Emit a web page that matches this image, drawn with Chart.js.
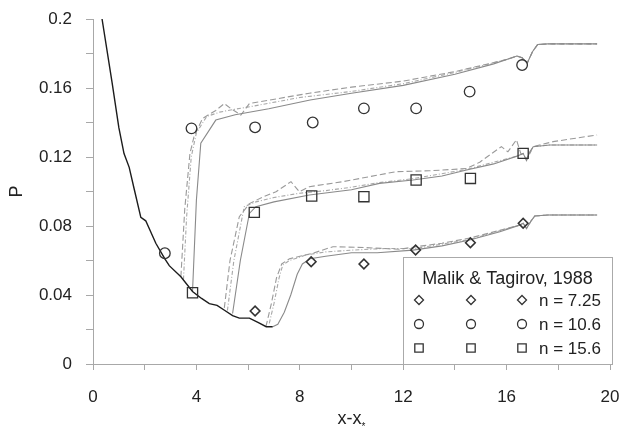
<!DOCTYPE html>
<html>
<head>
<meta charset="utf-8">
<script src="https://cdn.jsdelivr.net/npm/chart.js@4.4.0/dist/chart.umd.min.js"></script>
<style>
  body { margin: 0; background: #fff; }
  #wrap { width: 621px; height: 427px; position: relative; }
</style>
</head>
<body>
<div id="wrap"><canvas id="chart"></canvas></div>
<script>
// axis ticks (labelled ones)
const xTickLabels = [0, 4, 8, 12, 16, 20];
const yTickLabels = [0, 0.04, 0.08, 0.12, 0.16, 0.2];

// measured points, Malik & Tagirov 1988
const diamonds725 = [[6.27, 0.0307], [8.44, 0.0593], [10.48, 0.058], [12.48, 0.0661], [14.6, 0.0703], [16.64, 0.0816]];
const circles106 = [[2.78, 0.0642], [3.81, 0.1366], [6.27, 0.1372], [8.5, 0.140], [10.48, 0.1482], [12.5, 0.1482], [14.57, 0.1579], [16.6, 0.1733]];
const squares156 = [[3.85, 0.0413], [6.24, 0.0879], [8.46, 0.0974], [10.48, 0.097], [12.5, 0.1067], [14.6, 0.1076], [16.64, 0.1221]];

// common upstream curve (black)
const upstream = [[0.35, 0.2], [0.74, 0.163], [1.0, 0.137], [1.2, 0.122], [1.4, 0.114], [1.6, 0.101], [1.85, 0.085],
  [2.04, 0.083], [2.43, 0.070], [2.78, 0.061], [2.95, 0.057], [3.4, 0.0506], [3.85, 0.042], [4.2, 0.038], [4.5, 0.035],
  [4.8, 0.034], [5.1, 0.031], [5.4, 0.028], [5.66, 0.0266], [6.05, 0.0266], [6.4, 0.024], [6.7, 0.0216], [6.95, 0.0216]];

// n = 10.6 computed curves
const solid106 = [[3.85, 0.042], [4.0, 0.095], [4.17, 0.128], [4.75, 0.1414], [5.5, 0.1445], [6.8, 0.148], [8.4, 0.153],
  [10, 0.157], [12, 0.1615], [14, 0.168], [15.5, 0.174], [16.4, 0.1785], [16.6, 0.1775], [16.8, 0.1745], [17.0, 0.181],
  [17.2, 0.1852], [17.6, 0.1856], [19.5, 0.1856]];
const dash106a = [[3.4, 0.0506], [3.55, 0.09], [3.75, 0.122], [3.91, 0.132], [4.24, 0.1424], [4.75, 0.147], [5.08, 0.151],
  [5.34, 0.148], [5.72, 0.1443], [6.05, 0.151], [6.82, 0.153], [8.37, 0.157], [10, 0.1605], [12, 0.164], [14, 0.1695],
  [16, 0.1765], [16.4, 0.1785], [16.6, 0.1775], [16.8, 0.1745], [17.0, 0.181], [17.2, 0.1852], [17.6, 0.1856], [19.5, 0.1856]];
const dash106b = [[3.5, 0.049], [3.62, 0.085], [3.8, 0.12], [4.0, 0.134], [4.4, 0.1435], [4.9, 0.146], [5.4, 0.1475],
  [6.2, 0.1495], [8.0, 0.1545], [10, 0.158], [12, 0.1625], [14, 0.169], [16, 0.1765], [16.4, 0.1785], [16.6, 0.1775],
  [16.8, 0.1745], [17.0, 0.181], [17.2, 0.1852], [17.6, 0.1856], [19.5, 0.1856]];

// n = 15.6 computed curves
const solid156 = [[5.4, 0.0293], [5.7, 0.06], [6.05, 0.0873], [6.3, 0.0912], [7, 0.094], [8.37, 0.098], [10, 0.101],
  [11.08, 0.1047], [12.38, 0.1067], [13.5, 0.109], [14.45, 0.1125], [15.5, 0.116], [16.4, 0.1205], [16.64, 0.1221],
  [16.77, 0.118], [16.9, 0.123], [17.03, 0.126], [17.67, 0.127], [19.5, 0.127]];
const dash156a = [[5.08, 0.0325], [5.3, 0.06], [5.66, 0.0854], [6.05, 0.093], [6.6, 0.097], [7.08, 0.0999], [7.66, 0.1057],
  [7.98, 0.0999], [8.37, 0.1028], [9.66, 0.1057], [11.73, 0.1115], [13, 0.112], [14.45, 0.1133], [14.96, 0.117],
  [15.8, 0.126], [16.05, 0.123], [16.38, 0.13], [16.55, 0.122], [16.77, 0.119], [17.03, 0.126], [17.8, 0.1289], [19.5, 0.1328]];
const dash156b = [[5.2, 0.031], [5.45, 0.06], [5.85, 0.0912], [6.3, 0.094], [7, 0.0965], [8, 0.099], [9, 0.1005],
  [10, 0.1025], [11, 0.105], [12.4, 0.1075], [14.45, 0.1128], [16.4, 0.1205], [16.64, 0.1221], [16.77, 0.118],
  [17.03, 0.126], [17.67, 0.127], [19.5, 0.127]];

// n = 7.25 computed curves
const solid725 = [[6.95, 0.0216], [7.15, 0.023], [7.4, 0.03], [7.65, 0.04], [7.9, 0.052], [8.1, 0.058], [8.4, 0.061],
  [9, 0.0625], [10, 0.0645], [11, 0.0645], [12.38, 0.066], [13.5, 0.0685], [14.57, 0.0719], [15.74, 0.0767], [16.5, 0.0805],
  [16.64, 0.0816], [16.77, 0.0786], [16.95, 0.083], [17.09, 0.0858], [17.6, 0.0864], [19.5, 0.0864]];
const dash725a = [[6.69, 0.0216], [6.9, 0.035], [7.1, 0.05], [7.3, 0.058], [7.6, 0.061], [8.5, 0.0642], [9.28, 0.068],
  [10.5, 0.0675], [11.86, 0.0665], [12.5, 0.068], [13.5, 0.07], [14.57, 0.073], [15.74, 0.0775], [16.5, 0.0805],
  [16.64, 0.0816], [16.77, 0.0786], [16.95, 0.083], [17.09, 0.0858], [17.6, 0.0864], [19.5, 0.0864]];
const dash725b = [[6.82, 0.0236], [7.0, 0.035], [7.2, 0.05], [7.34, 0.0574], [7.6, 0.06], [8.24, 0.0632], [9, 0.065],
  [10, 0.066], [11.34, 0.067], [12.5, 0.067], [14.57, 0.0722], [16.5, 0.0805], [16.64, 0.0816], [16.77, 0.0786],
  [16.95, 0.083], [17.09, 0.0858], [17.6, 0.0864], [19.5, 0.0864]];

const legendTitle = 'Malik & Tagirov, 1988';
const legendLabels = ['n = 7.25', 'n = 10.6', 'n = 15.6'];
const xTitle = 'x-x';
const xTitleSub = '*';
const yTitle = 'P';

const FONT = '"Liberation Sans", Arial, Helvetica, sans-serif';
const toXY = arr => arr.map(p => ({ x: p[0], y: p[1] }));

function markerSet(points, style, radius, width) {
  return {
    data: toXY(points), showLine: false, pointStyle: style, pointRadius: radius,
    pointBorderColor: '#333', pointBackgroundColor: 'rgba(0,0,0,0)', pointBorderWidth: width
  };
}
function lineSet(points, color, width, dash) {
  return {
    data: toXY(points), showLine: true, borderColor: color, borderWidth: width,
    borderDash: dash || [], pointRadius: 0, tension: 0, fill: false
  };
}

// draw a small marker shape for the legend
function drawMarker(ctx, style, cx, cy, r) {
  ctx.beginPath();
  if (style === 'circle') {
    ctx.arc(cx, cy, r, 0, Math.PI * 2);
  } else if (style === 'rect') {
    ctx.rect(cx - r, cy - r, 2 * r, 2 * r);
  } else {
    ctx.moveTo(cx, cy - r); ctx.lineTo(cx + r, cy); ctx.lineTo(cx, cy + r); ctx.lineTo(cx - r, cy); ctx.closePath();
  }
  ctx.stroke();
}

const legendBox = {
  id: 'legendBox',
  afterDatasetsDraw(chart) {
    const { ctx, chartArea, scales } = chart;
    const left = Math.round(scales.x.getPixelForValue(12));
    const right = chartArea.right + 2;
    const top = Math.round(scales.y.getPixelForValue(0.062));
    const bottom = chartArea.bottom;
    ctx.save();
    ctx.fillStyle = '#fff';
    ctx.fillRect(left, top, right - left, bottom - top);
    ctx.strokeStyle = '#aaa';
    ctx.lineWidth = 1;
    ctx.strokeRect(left + 0.5, top + 0.5, right - left, bottom - top);
    ctx.fillStyle = '#222';
    ctx.textBaseline = 'middle';
    ctx.textAlign = 'center';
    ctx.font = '18px ' + FONT;
    ctx.fillText(legendTitle, (left + right) / 2, top + 22);
    const styles = ['rectRot', 'circle', 'rect'];
    const sizes = [4.5, 4.5, 4.2];
    ctx.textAlign = 'left';
    ctx.font = '17px ' + FONT;
    ctx.strokeStyle = '#333';
    ctx.lineWidth = 1.3;
    for (let i = 0; i < 3; i++) {
      const cy = top + 43 + i * 24;
      [16, 68, 119].forEach(dx => drawMarker(ctx, styles[i], left + dx, cy, sizes[i]));
      ctx.fillText(legendLabels[i], left + 136, cy + 1);
    }
    // x axis title with a small subscript star
    ctx.textAlign = 'left';
    ctx.textBaseline = 'alphabetic';
    ctx.font = '18px ' + FONT;
    const w = ctx.measureText(xTitle).width;
    ctx.font = '10px ' + FONT;
    const ws = ctx.measureText(xTitleSub).width;
    const x0 = (chartArea.left + chartArea.right) / 2 - (w + ws) / 2;
    ctx.font = '18px ' + FONT;
    ctx.fillText(xTitle, x0, 424);
    ctx.font = '10px ' + FONT;
    ctx.fillText(xTitleSub, x0 + w, 430);
    ctx.restore();
  }
};

const gridOpts = { drawOnChartArea: false, drawTicks: true, color: '#a8a8a8', lineWidth: 1 };

new Chart(document.getElementById('chart'), {
  type: 'scatter',
  data: {
    datasets: [
      markerSet(diamonds725, 'rectRot', 4.8, 1.6),
      markerSet(circles106, 'circle', 5.3, 1.3),
      markerSet(squares156, 'rect', 7.2, 1.3),
      lineSet(upstream, '#1c1c1c', 1.4),
      lineSet(solid106, '#8a8a8a', 1.1),
      lineSet(dash106a, '#9a9a9a', 1.1, [6, 3]),
      lineSet(dash106b, '#a8a8a8', 1.1, [4, 2, 1, 2]),
      lineSet(solid156, '#8a8a8a', 1.1),
      lineSet(dash156a, '#9a9a9a', 1.1, [6, 3]),
      lineSet(dash156b, '#a8a8a8', 1.1, [4, 2, 1, 2]),
      lineSet(solid725, '#8a8a8a', 1.1),
      lineSet(dash725a, '#9a9a9a', 1.1, [6, 3]),
      lineSet(dash725b, '#a8a8a8', 1.1, [4, 2, 1, 2])
    ]
  },
  options: {
    responsive: true,
    maintainAspectRatio: false,
    animation: false,
    layout: { padding: { top: 19, right: 11, left: 0, bottom: 0 } },
    plugins: { legend: { display: false }, tooltip: { enabled: false } },
    scales: {
      x: {
        type: 'linear', min: 0, max: 20,
        ticks: {
          stepSize: 2, padding: 17, color: '#222', font: { family: FONT, size: 17 },
          callback: v => xTickLabels.includes(v) ? String(v) : ''
        },
        grid: Object.assign({ tickLength: 6 }, gridOpts),
        border: { display: true, color: '#a8a8a8' },
        title: { display: false },
        afterFit: s => { s.height = 63; s.paddingLeft = 0; s.paddingRight = 0; }
      },
      y: {
        type: 'linear', min: 0, max: 0.2,
        ticks: {
          stepSize: 0.02, padding: 14, color: '#222', font: { family: FONT, size: 17 },
          callback: v => {
            const m = yTickLabels.find(t => Math.abs(t - v) < 1e-9);
            return m === undefined ? '' : String(m);
          }
        },
        grid: Object.assign({ tickLength: 7 }, gridOpts),
        border: { display: true, color: '#a8a8a8' },
        title: { display: true, text: yTitle, color: '#222', padding: { top: 6, bottom: 0 }, font: { family: FONT, size: 18 } },
        afterFit: s => { s.width = 93; s.paddingTop = 0; s.paddingBottom = 0; }
      }
    }
  },
  plugins: [legendBox]
});
</script>
</body>
</html>
